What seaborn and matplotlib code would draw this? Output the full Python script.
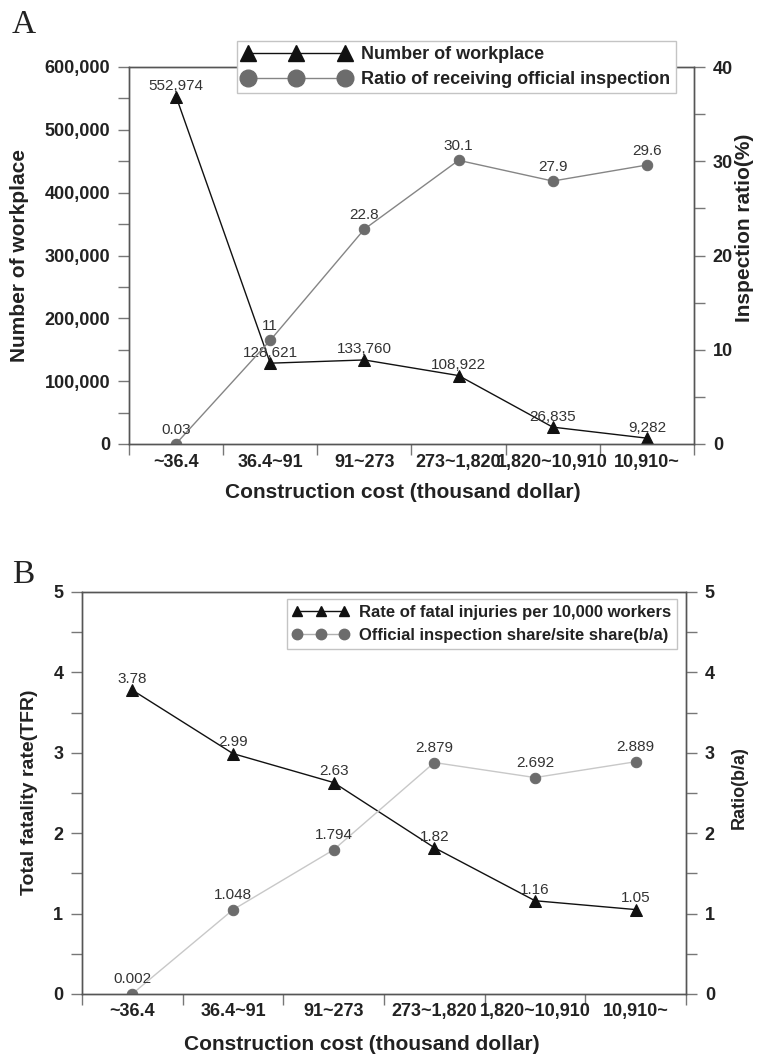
import numpy as np
import matplotlib
matplotlib.use("Agg")
import matplotlib.pyplot as plt
import seaborn as sns
from matplotlib.ticker import MultipleLocator, FuncFormatter
from matplotlib.lines import Line2D

# ---------------- data ----------------
categories = ["~36.4", "36.4~91", "91~273", "273~1,820", "1,820~10,910", "10,910~"]
workplaces = [552974, 128621, 133760, 108922, 26835, 9282]
inspection_ratio = [0.03, 11, 22.8, 30.1, 27.9, 29.6]
fatality_rate = [3.78, 2.99, 2.63, 1.82, 1.16, 1.05]
share_ratio = [0.002, 1.048, 1.794, 2.879, 2.692, 2.889]

legend_A = ["Number of workplace", "Ratio of receiving official inspection"]
legend_B = ["Rate of fatal injuries per 10,000 workers", "Official inspection share/site share(b/a)"]

# ---------------- style ----------------
sns.set_style("ticks")
plt.rcParams["font.family"] = ["Liberation Sans", "DejaVu Sans"]
plt.rcParams["font.weight"] = "bold"
plt.rcParams["axes.labelweight"] = "bold"

W, H = 759, 1058
fig = plt.figure(figsize=(W / 100, H / 100), dpi=100)


def box(l, t, r, b):
    return [l / W, 1 - b / H, (r - l) / W, (b - t) / H]


def fpos(x, y):
    return (x / W, 1 - y / H)


DARK = "#111111"
GRAY_PT = "#6c6c6c"
SPINE = "#555555"
TICKC = "#777777"
TXT = "#222222"

x = np.arange(len(categories))


def style(ax, ax2, xpad, ysize):
    for a in (ax, ax2):
        for s in a.spines.values():
            s.set_color(SPINE)
            s.set_linewidth(1.0)
    ax.set_xlim(-0.5, len(categories) - 0.5)
    ax.set_xticks(np.arange(-0.5, len(categories)))
    ax.set_xticklabels([])
    ax.set_xticks(x, minor=True)
    ax.set_xticklabels(categories, minor=True)
    ax.tick_params(axis="x", which="major", direction="out", length=8, width=1, color=TICKC)
    ax.tick_params(axis="x", which="minor", length=0, pad=xpad, labelsize=13, labelcolor=TXT)
    ax.tick_params(axis="y", which="both", direction="out", length=8, width=1, color=TICKC,
                   labelsize=ysize, labelcolor=TXT, pad=5.5)
    ax2.tick_params(axis="y", which="both", direction="out", length=8, width=1, color=TICKC,
                    labelsize=ysize, labelcolor=TXT, pad=5.5)
    ax.set_xlabel("")
    ax.set_ylabel("")
    ax2.set_ylabel("")


# ================= Panel A =================
axA = fig.add_axes(box(129, 67, 694, 444))
sns.lineplot(x=x, y=workplaces, ax=axA, color=DARK, linewidth=1.0, marker="^",
             markersize=8, markeredgecolor=DARK, markerfacecolor=DARK)
axA2 = axA.twinx()
sns.lineplot(x=x, y=inspection_ratio, ax=axA2, color="#858585", linewidth=1.0, marker="o",
             markersize=7.5, markeredgecolor=GRAY_PT, markerfacecolor=GRAY_PT)
axA.set_ylim(0, 600000)
axA2.set_ylim(0, 40)
axA.yaxis.set_major_locator(MultipleLocator(100000))
axA.yaxis.set_minor_locator(MultipleLocator(50000))
axA.yaxis.set_major_formatter(FuncFormatter(lambda v, p: f"{int(v):,}"))
axA2.yaxis.set_major_locator(MultipleLocator(10))
axA2.yaxis.set_minor_locator(MultipleLocator(5))
style(axA, axA2, xpad=7, ysize=13)

for xi, v in zip(x, workplaces):
    axA.annotate(f"{v:,}", (xi, v), xytext=(0, 2.5), textcoords="offset points",
                 ha="center", va="bottom", fontsize=11, fontweight="normal", color="#333333")
for xi, v in zip(x, inspection_ratio):
    axA2.annotate(f"{v:g}", (xi, v), xytext=(0, 5), textcoords="offset points",
                  ha="center", va="bottom", fontsize=11, fontweight="normal", color="#333333")

hA = [Line2D([], [], color=DARK, lw=1, marker="^", markersize=11, mfc=DARK, mec=DARK),
      Line2D([], [], color="#858585", lw=1, marker="o", markersize=12, mfc=GRAY_PT, mec=GRAY_PT)]
legA = fig.legend(hA, legend_A, loc="upper right", bbox_to_anchor=fpos(676, 41),
                  bbox_transform=fig.transFigure, borderaxespad=0, frameon=True, fancybox=False,
                  edgecolor="#c4c4c4", framealpha=1, prop=dict(weight="bold", size=13),
                  handlelength=6.0, numpoints=3, handletextpad=0.6, borderpad=0.3,
                  labelspacing=0.42)
legA.get_frame().set_linewidth(1.0)
for t in legA.get_texts():
    t.set_color(TXT)

fig.text(*fpos(20, 255), "Number of workplace", rotation=90, ha="center", va="center",
         fontsize=15, fontweight="bold", color=TXT)
fig.text(*fpos(745, 228), "Inspection ratio(%)", rotation=90, ha="center", va="center",
         fontsize=15, fontweight="bold", color=TXT)
fig.text(*fpos(403, 492), "Construction cost (thousand dollar)", ha="center", va="center",
         fontsize=15, fontweight="bold", color=TXT)
fig.text(*fpos(12, 33), "A", ha="left", va="baseline", fontsize=24, fontweight="normal",
         family=["Liberation Serif", "DejaVu Serif"], color=TXT)

# ================= Panel B =================
axB = fig.add_axes(box(82, 592, 686, 994))
sns.lineplot(x=x, y=fatality_rate, ax=axB, color=DARK, linewidth=1.0, marker="^",
             markersize=8, markeredgecolor=DARK, markerfacecolor=DARK)
axB2 = axB.twinx()
sns.lineplot(x=x, y=share_ratio, ax=axB2, color="#c8c8c8", linewidth=1.0, marker="o",
             markersize=7.5, markeredgecolor=GRAY_PT, markerfacecolor=GRAY_PT)
axB.set_ylim(0, 5)
axB2.set_ylim(0, 5)
for a in (axB, axB2):
    a.yaxis.set_major_locator(MultipleLocator(1))
    a.yaxis.set_minor_locator(MultipleLocator(0.5))
style(axB, axB2, xpad=6.5, ysize=13)

for xi, v in zip(x, fatality_rate):
    axB.annotate(f"{v:g}", (xi, v), xytext=(0, 3), textcoords="offset points",
                 ha="center", va="bottom", fontsize=11, fontweight="normal", color="#333333")
for xi, v in zip(x, share_ratio):
    axB2.annotate(f"{v:g}", (xi, v), xytext=(0, 5.5), textcoords="offset points",
                  ha="center", va="bottom", fontsize=11, fontweight="normal", color="#333333")

hB = [Line2D([], [], color=DARK, lw=1, marker="^", markersize=7, mfc=DARK, mec=DARK),
      Line2D([], [], color="#b0b0b0", lw=1, marker="o", markersize=7.5, mfc=GRAY_PT, mec=GRAY_PT)]
legB = fig.legend(hB, legend_B, loc="upper right", bbox_to_anchor=fpos(677, 599),
                  bbox_transform=fig.transFigure, borderaxespad=0, frameon=True, fancybox=False,
                  edgecolor="#c4c4c4", framealpha=1, prop=dict(weight="bold", size=12),
                  handlelength=3.4, numpoints=3, handletextpad=0.6, borderpad=0.35,
                  labelspacing=0.5)
legB.get_frame().set_linewidth(1.0)
for t in legB.get_texts():
    t.set_color(TXT)

fig.text(*fpos(30, 792), "Total fatality rate(TFR)", rotation=90, ha="center", va="center",
         fontsize=14, fontweight="bold", color=TXT)
fig.text(*fpos(739, 788), "Ratio(b/a)", rotation=90, ha="center", va="center",
         fontsize=13, fontweight="bold", color=TXT)
fig.text(*fpos(362, 1045), "Construction cost (thousand dollar)", ha="center", va="center",
         fontsize=15, fontweight="bold", color=TXT)
fig.text(*fpos(12, 583), "B", ha="left", va="baseline", fontsize=24, fontweight="normal",
         family=["Liberation Serif", "DejaVu Serif"], color=TXT)

fig.savefig("out.png", dpi=100)
